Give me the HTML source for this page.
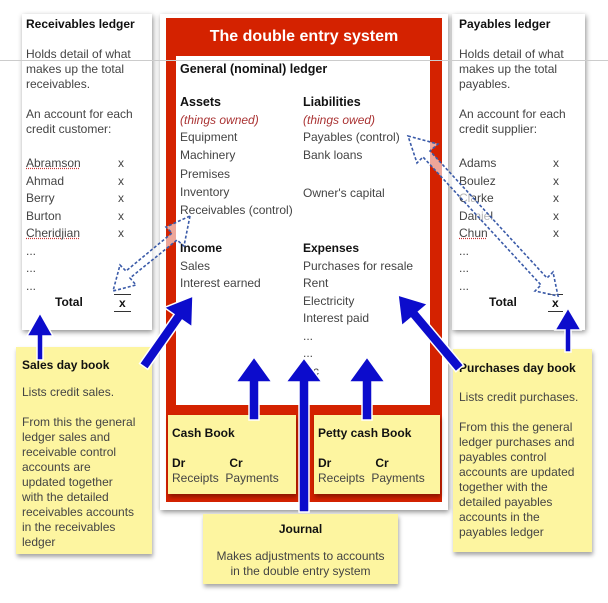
<!DOCTYPE html>
<html><head><style>
body{margin:0;width:608px;height:603px;background:#fff;position:relative;overflow:hidden;font-family:"Liberation Sans",sans-serif;}
.a{position:absolute;}
.panel{background:#fff;box-shadow:1px 2px 5px rgba(0,0,0,.45);}
.y{background:#fdf5a0;box-shadow:1px 3px 4px rgba(0,0,0,.35);}
.t{font-size:12px;color:#444;line-height:17.5px;white-space:nowrap;}
.b{font-weight:bold;color:#111;}
.s{line-height:15px;}
</style></head><body>
<div class="a panel" style="left:22px;top:14px;width:130px;height:316px"></div>
<div class="a panel" style="left:452px;top:14px;width:133px;height:316px"></div>
<div class="a panel" style="left:160px;top:14px;width:288px;height:496px"></div>
<div class="a" style="left:166px;top:18px;width:276px;height:484px;background:#d42200"></div>
<div class="a" style="left:176px;top:56px;width:254px;height:349px;background:#fff"></div>
<div class="a" style="left:0;top:60px;width:608px;height:1px;background:#ccc"></div>
<div class="a b" style="left:166px;top:28px;width:276px;text-align:center;color:#fff;font-size:16px">The double entry system</div>

<div class="a t" style="left:26px;top:16px"><span class="b" style="font-size:12px">Receivables ledger</span></div>
<div class="a t" style="left:26px;top:47px;line-height:15px">Holds detail of what<br>makes up the total<br>receivables.<br><br>An account for each<br>credit customer:</div>
<div class="a t" style="left:26px;top:155px"><u style="text-decoration-color:#c33;text-decoration-style:dotted">Abramson</u><br>Ahmad<br>Berry<br>Burton<br><u style="text-decoration-color:#c33;text-decoration-style:dotted">Cheridjian</u><br>...<br>...<br>...</div>
<div class="a t" style="left:118px;top:155px">x<br>x<br>x<br>x<br>x</div>
<div class="a t b" style="left:55px;top:294px">Total</div>
<div class="a t b" style="left:114px;top:294px;border-top:1px solid #333;border-bottom:1px solid #333;padding:0 5px;line-height:16px">x</div>

<div class="a t" style="left:459px;top:16px"><span class="b">Payables ledger</span></div>
<div class="a t" style="left:459px;top:47px;line-height:15px">Holds detail of what<br>makes up the total<br>payables.<br><br>An account for each<br>credit supplier:</div>
<div class="a t" style="left:459px;top:155px">Adams<br>Boulez<br>Clarke<br>Daniel<br><u style="text-decoration-color:#c33;text-decoration-style:dotted">Chun</u><br>...<br>...<br>...</div>
<div class="a t" style="left:553px;top:155px">x<br>x<br>x<br>x<br>x</div>
<div class="a t b" style="left:489px;top:294px">Total</div>
<div class="a t b" style="left:548px;top:294px;border-top:1px solid #333;border-bottom:1px solid #333;padding:0 4px;line-height:16px">x</div>

<div class="a t b" style="left:180px;top:61px;font-size:12.5px">General (nominal) ledger</div>
<div class="a t" style="left:180px;top:94px"><span class="b" style="font-size:12.5px">Assets</span><br><i style="color:#a33">(things owned)</i><br>Equipment<br>Machinery<br><span style="line-height:20px">Premises</span><br>Inventory<br>Receivables (control)</div>
<div class="a t" style="left:303px;top:94px"><span class="b" style="font-size:12.5px">Liabilities</span><br><i style="color:#a33">(things owed)</i><br>Payables (control)<br>Bank loans<br><br><span style="position:relative;top:3px">Owner's capital</span></div>
<div class="a t" style="left:180px;top:240px"><span class="b">Income</span><br>Sales<br>Interest earned</div>
<div class="a t" style="left:303px;top:240px"><span class="b">Expenses</span><br>Purchases for resale<br>Rent<br>Electricity<br>Interest paid<br>...<br>...<br>etc</div>

<div class="a y" style="left:168px;top:415px;width:128px;height:79px"></div>
<div class="a y" style="left:314px;top:415px;width:126px;height:79px"></div>
<div class="a t s" style="left:172px;top:426px"><span class="b">Cash Book</span><br><br><span class="b">Dr</span><span class="b" style="margin-left:44px">Cr</span><br>Receipts&nbsp;&nbsp;Payments</div>
<div class="a t s" style="left:318px;top:426px"><span class="b">Petty cash Book</span><br><br><span class="b">Dr</span><span class="b" style="margin-left:44px">Cr</span><br>Receipts&nbsp;&nbsp;Payments</div>

<div class="a y" style="left:16px;top:347px;width:136px;height:207px"></div>
<div class="a t b" style="left:22px;top:357px">Sales day book</div>
<div class="a t s" style="left:22px;top:385px">Lists credit sales.</div>
<div class="a t s" style="left:22px;top:415px">From this the general<br>ledger sales and<br>receivable control<br>accounts are<br>updated together<br>with the detailed<br>receivables accounts<br>in the receivables<br>ledger</div>

<div class="a y" style="left:453px;top:349px;width:139px;height:203px"></div>
<div class="a t b" style="left:459px;top:360px">Purchases day book</div>
<div class="a t s" style="left:459px;top:390px">Lists credit purchases.</div>
<div class="a t s" style="left:459px;top:420px">From this the general<br>ledger purchases and<br>payables control<br>accounts are updated<br>together with the<br>detailed payables<br>accounts in the<br>payables ledger</div>

<div class="a y" style="left:203px;top:514px;width:195px;height:70px"></div>
<div class="a t b" style="left:203px;top:522px;width:195px;text-align:center;line-height:15px">Journal</div>
<div class="a t s" style="left:203px;top:549px;width:195px;text-align:center">Makes adjustments to accounts<br>in the double entry system</div>

<svg class="a" style="left:0;top:0" width="608" height="603">
<g fill="#0c0ccc" stroke="#fff" stroke-width="1.5">
<polygon points="40,313 53,336 43,336 43,360 37,360 37,336 27,336"/>
<polygon points="568,308 581,330 571,330 571,352 565,352 565,330 555,330"/>
<polygon points="254,357 272,382 259,382 259,420 249,420 249,382 236,382"/>
<polygon points="367,357 385,382 372,382 372,420 362,420 362,382 349,382"/>
<polygon points="304,358 322,382 309,382 309,512 299,512 299,382 286,382"/>
<g transform="translate(193,296) rotate(35)"><polygon points="0,0 17,26 5,26 5,86 -5,86 -5,26 -17,26"/></g>
<g transform="translate(398,295) rotate(-40)"><polygon points="0,0 17,26 5,26 5,96 -5,96 -5,26 -17,26"/></g>
</g>
<g fill="#fff" fill-opacity=".6" stroke="#3a5aa8" stroke-width="1.6" stroke-dasharray="3,2">
<polygon points="190,216 184,246 177,240 130,278 136,285 113,291 120,265 126,271 172,233 166,227"/>
<polygon points="408,136 438,144 430,151 547,278 553,272 558,296 535,291 541,285 423,157 417,163"/>
</g>
</svg>
</body></html>
